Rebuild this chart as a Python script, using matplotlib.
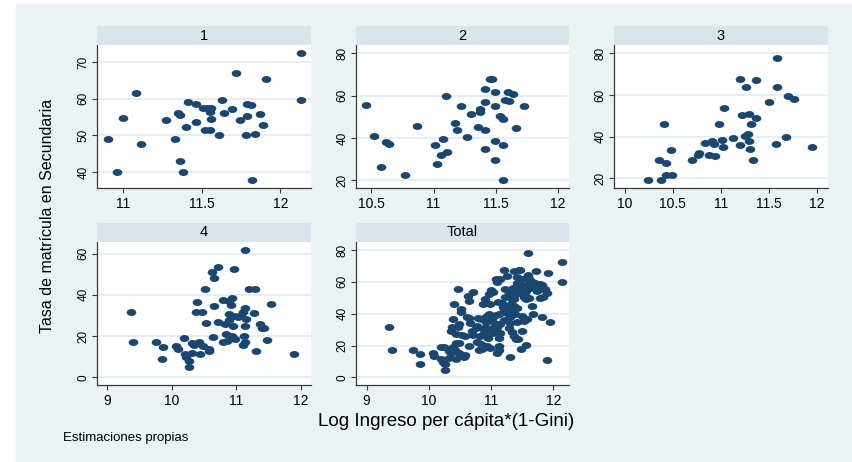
import numpy as np
import matplotlib
matplotlib.use("Agg")
import matplotlib.pyplot as plt
from matplotlib.path import Path
from matplotlib.transforms import Affine2D
from matplotlib.patches import Rectangle

plt.rcParams['font.family'] = ['Liberation Sans', 'DejaVu Sans']

# grupo 1
x1 = [10.90, 10.96, 11.00, 11.08, 11.11, 11.27, 11.33, 11.35, 11.36, 11.36,
      11.38, 11.40, 11.41, 11.46, 11.46, 11.51, 11.52, 11.53, 11.55, 11.55,
      11.56, 11.56, 11.61, 11.63, 11.64, 11.69, 11.715, 11.74, 11.78, 11.79,
      11.79, 11.81, 11.82, 11.84, 11.87, 11.89, 11.91, 12.13, 12.13]
y1 = [49.1, 40.0, 54.8, 61.5, 47.5, 54.1, 49.0, 56.2, 55.6, 42.9,
      40.0, 52.2, 59.1, 58.6, 53.7, 57.4, 51.5, 57.4, 51.5, 56.4,
      57.6, 54.5, 50.1, 59.7, 56.1, 57.2, 67.1, 54.1, 50.1, 55.2,
      58.6, 58.3, 37.7, 50.3, 55.7, 52.7, 65.5, 72.5, 59.7]

# grupo 2
x2 = [10.46, 10.52, 10.58, 10.615, 10.64, 10.77, 10.87, 11.01, 11.03, 11.06,
      11.075, 11.10, 11.11, 11.17, 11.19, 11.22, 11.27, 11.30, 11.36, 11.37,
      11.37, 11.41, 11.41, 11.41, 11.41, 11.45, 11.47, 11.49, 11.49, 11.49,
      11.49, 11.53, 11.56, 11.56, 11.56, 11.57, 11.60, 11.61, 11.64, 11.66,
      11.73]
y2 = [55.5, 41.0, 26.1, 37.9, 37.1, 22.5, 45.9, 36.5, 27.9, 32.1,
      39.3, 59.6, 33.5, 46.9, 43.9, 55.2, 40.7, 51.3, 45.1, 52.5,
      53.8, 63.2, 56.9, 43.6, 34.6, 67.7, 67.7, 55.2, 61.8, 38.5,
      29.4, 50.5, 49.1, 36.7, 20.2, 58.0, 61.6, 57.4, 60.7, 44.5,
      55.0]

# grupo 3
x3 = [10.244, 10.36, 10.38, 10.41, 10.43, 10.435, 10.48, 10.49, 10.70, 10.76,
      10.77, 10.84, 10.88, 10.91, 10.93, 10.94, 10.98, 11.01, 11.02, 11.03,
      11.13, 11.20, 11.20, 11.22, 11.25, 11.26, 11.28, 11.29, 11.30, 11.31,
      11.32, 11.34, 11.37, 11.37, 11.50, 11.58, 11.59, 11.585, 11.68, 11.70,
      11.76, 11.95]
y3 = [19.0, 28.8, 19.2, 45.9, 21.6, 27.3, 33.7, 21.4, 28.9, 31.2,
      32.4, 36.9, 31.3, 37.9, 36.6, 30.7, 46.0, 38.4, 35.2, 53.8,
      39.6, 36.0, 67.6, 50.3, 40.4, 63.7, 41.1, 50.8, 37.9, 34.2,
      46.3, 28.6, 49.0, 67.1, 56.7, 36.6, 64.0, 77.9, 39.8, 59.3,
      58.0, 35.0]

# grupo 4
x4 = [9.36, 9.40, 9.75, 9.86, 9.85, 10.06, 10.09, 10.19, 10.20, 10.22,
      10.26, 10.26, 10.32, 10.32, 10.35, 10.37, 10.39, 10.42, 10.43, 10.47,
      10.49, 10.51, 10.53, 10.57, 10.58, 10.63, 10.64, 10.65, 10.66, 10.71,
      10.71, 10.79, 10.80, 10.82, 10.84, 10.85, 10.88, 10.88, 10.89, 10.91,
      10.93, 10.94, 10.945, 10.96, 10.97, 10.98, 11.02, 11.07, 11.10, 11.10,
      11.12, 11.13, 11.13, 11.14, 11.14, 11.15, 11.20, 11.28, 11.29, 11.30,
      11.37, 11.40, 11.43, 11.475, 11.53, 11.89]
y4 = [31.8, 17.1, 17.3, 14.5, 8.7, 15.3, 13.7, 19.0, 11.3, 9.7,
      8.1, 4.8, 11.9, 16.8, 15.6, 31.6, 36.5, 16.9, 11.3, 31.9,
      15.2, 42.7, 26.5, 12.7, 13.9, 51.1, 19.4, 48.2, 34.4, 53.4,
      26.8, 37.4, 16.9, 25.8, 20.8, 17.7, 30.6, 37.1, 27.9, 35.0,
      20.0, 38.7, 24.8, 29.5, 52.6, 18.7, 29.4, 30.3, 31.5, 15.6,
      20.0, 17.1, 24.8, 33.7, 61.8, 28.1, 42.6, 31.0, 42.6, 12.9,
      25.8, 24.0, 24.0, 18.1, 35.5, 11.1]

titles = ["1", "2", "3", "4", "Total"]
xticks = [[11, 11.5, 12], [10.5, 11, 11.5, 12], [10, 10.5, 11, 11.5, 12],
          [9, 10, 11, 12], [9, 10, 11, 12]]
yticks = [[40, 50, 60, 70], [20, 40, 60, 80], [20, 40, 60, 80],
          [0, 20, 40, 60], [0, 20, 40, 60, 80]]

xs = [x1, x2, x3, x4, x1 + x2 + x3 + x4]
ys = [y1, y2, y3, y4, y1 + y2 + y3 + y4]

xlims = [(10.833, 12.195), (10.377, 12.088), (9.889, 12.118),
         (8.84, 12.157), (8.83, 12.25)]
ylims = [(35.6, 74.7), (16.4, 83.9), (15.4, 84.0), (-3.7, 65.6), (-4.8, 85.0)]

W, H = 852, 462
bg = '#eaf2f3'
strip_c = '#d9e5eb'
navy = '#1a476f'

# marcador eliptico (mas ancho que alto)
ell = Path.unit_circle().transformed(Affine2D().scale(1.0, 0.72))

fig = plt.figure(figsize=(W / 100, H / 100), dpi=100)
fig.patch.set_facecolor('white')
fig.add_artist(Rectangle((16 / W, 0), 1 - 16 / W, 458 / H,
                         transform=fig.transFigure, color=bg, zorder=-10))

cols = [(97, 311), (356, 569), (614, 828)]
rows = [(26, 45, 188), (223, 242, 385)]

for i in range(5):
    r, c = divmod(i, 3)
    x0, x1p = cols[c]
    st, top, bot = rows[r]
    ax = fig.add_axes([x0 / W, 1 - bot / H, (x1p - x0) / W, (bot - top) / H])
    ax.set_facecolor('white')
    ax.scatter(xs[i], ys[i], s=48, marker=ell, color=navy, linewidths=0, zorder=3)
    ax.set_xlim(xlims[i])
    ax.set_ylim(ylims[i])
    ax.set_xticks(xticks[i])
    ax.set_xticklabels([f"{t:g}" for t in xticks[i]])
    ax.set_yticks(yticks[i])
    ax.set_yticklabels([str(t) for t in yticks[i]], rotation=90, va='center')
    ax.grid(axis='y', color='#e2ebef', linewidth=1.2, zorder=0)
    ax.set_axisbelow(True)
    for side in ['top', 'right']:
        ax.spines[side].set_visible(False)
    for side in ['left', 'bottom']:
        ax.spines[side].set_color('#3a3a3a')
        ax.spines[side].set_linewidth(0.9)
    ax.tick_params(axis='x', length=3.5, width=0.8, color='#3a3a3a',
                   labelsize=10, pad=3)
    ax.tick_params(axis='y', length=3.5, width=0.8, color='#3a3a3a',
                   labelsize=8.5, pad=2)

    # franja con el titulo del panel
    sax = fig.add_axes([x0 / W, 1 - top / H, (x1p - x0) / W, (top - st) / H])
    sax.set_facecolor(strip_c)
    sax.set_xticks([])
    sax.set_yticks([])
    for sp in sax.spines.values():
        sp.set_visible(False)
    sax.text(0.5, 0.5, titles[i], ha='center', va='center', fontsize=10.5,
             transform=sax.transAxes)

fig.text(48 / W, 1 - 216 / H, "Tasa de matrícula en Secundaria",
         rotation=90, ha='center', va='center', fontsize=11.5)
fig.text(446 / W, 1 - 421 / H, "Log Ingreso per cápita*(1-Gini)",
         ha='center', va='center', fontsize=13.5)
fig.text(63 / W, 1 - 438 / H, "Estimaciones propias",
         ha='left', va='center', fontsize=9.5)

fig.savefig("out.png", dpi=100, facecolor=fig.get_facecolor())
